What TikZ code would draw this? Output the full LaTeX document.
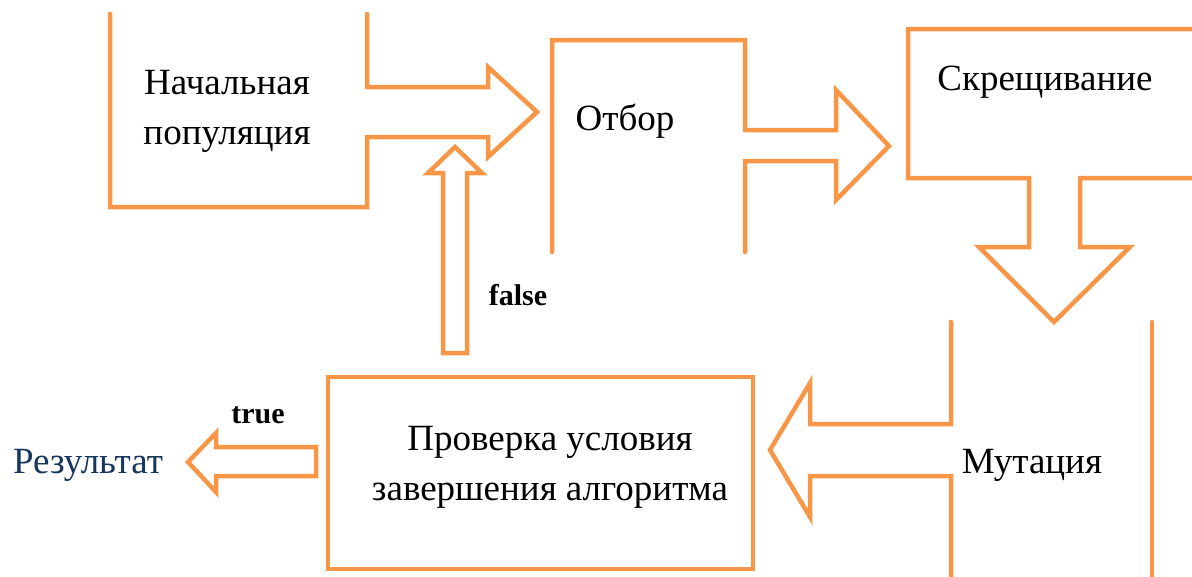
\documentclass[tikz,border=0pt]{standalone}
\usepackage{fontspec}
\setmainfont{Liberation Serif}
\usetikzlibrary{positioning, calc}
\definecolor{blockorange}{RGB}{247,150,70}
\definecolor{resblue}{RGB}{23,54,93}

\begin{document}
\begin{tikzpicture}[x=1pt,y=-1pt,
    block/.style={draw=blockorange, line width=4.5pt, line cap=round},
    lbl/.style={font=\fontsize{37}{50}\selectfont, align=center},
    flag/.style={font=\fontsize{30}{32}\selectfont\bfseries}]
    \useasboundingbox (0,0) rectangle (1192,576);

    % block outlines with merged arrows
    \draw[block] (110,14) -- (110,207) -- (367,207) -- (367,137) -- (488,137) -- (488,157)
        -- (537,112) -- (488,67) -- (488,87) -- (367,87) -- (367,14);
    \draw[block] (552,252) -- (552,40) -- (745,40) -- (745,130) -- (836,130) -- (836,90)
        -- (889,146) -- (836,200) -- (836,161) -- (745,161) -- (745,252);
    \draw[block] (1200,29) -- (908,29) -- (908,178) -- (1029,178) -- (1029,247) -- (979,247)
        -- (1054,322) -- (1130,247) -- (1080,247) -- (1080,178) -- (1200,178);
    \draw[block] (951,590) -- (951,476) -- (810,476) -- (810,517) -- (770,450) -- (810,383)
        -- (810,424) -- (951,424) -- (951,322);
    \draw[block] (1152,322) -- (1152,590);
    \draw[block] (328,377) rectangle (753,569);

    % false / true arrows
    \draw[block] (443,353) -- (443,173) -- (428,173) -- (455,147) -- (482,173) -- (467,173)
        -- (467,353) -- cycle;
    \draw[block] (316,447) -- (216,447) -- (216,433) -- (188,462) -- (216,492) -- (216,476)
        -- (316,476) -- cycle;

    \node[lbl] (init) at (227,111) {Начальная\\популяция};
    \node[lbl] (sel) at (625,121) {Отбор};
    \node[lbl] (cross) at (1045,82) {Скрещивание};
    \node[lbl] (mut) at (1032,465) {Мутация};
    \node[lbl] (check) at (550,467) {Проверка условия\\завершения алгоритма};
    \node[lbl, text=resblue] (res) at (88,465) {Результат};
    \node[flag] (no) at (518,295) {false};
    \node[flag] (yes) at (258,415) {true};
\end{tikzpicture}
\end{document}
